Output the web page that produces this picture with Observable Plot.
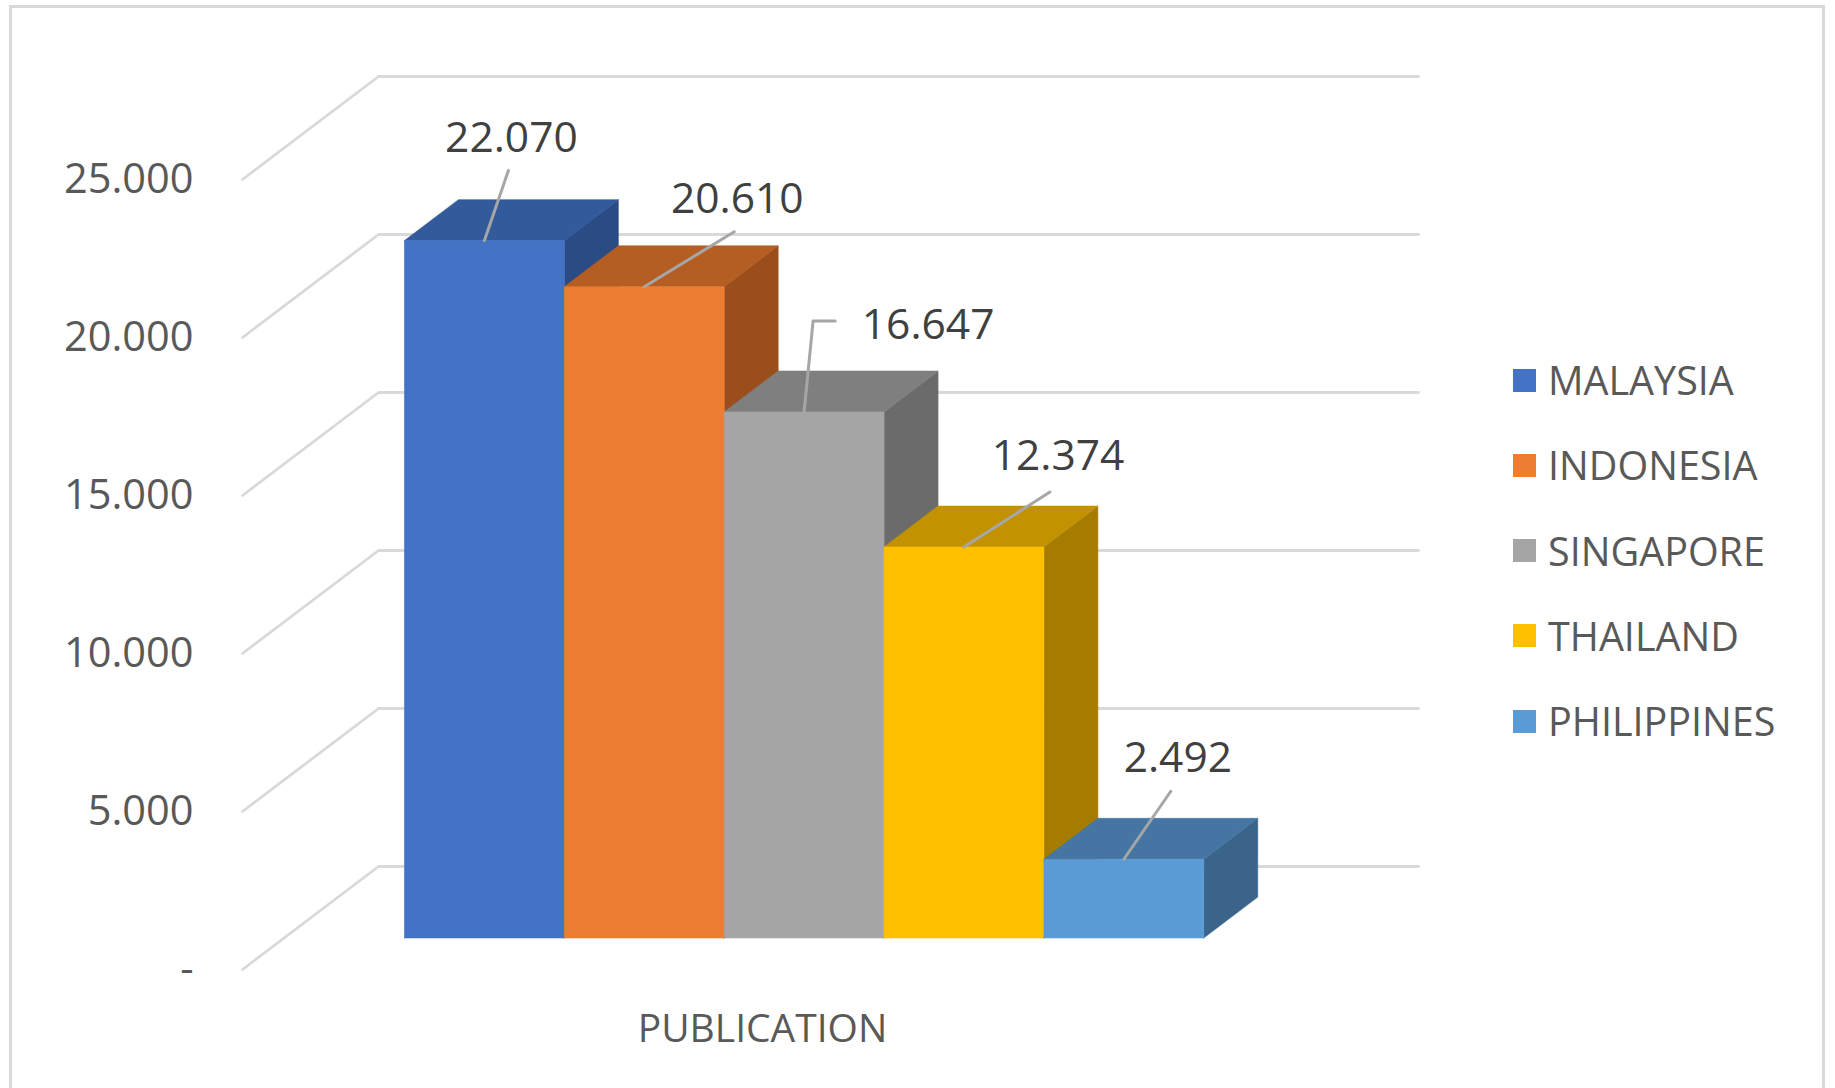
<!DOCTYPE html>
<html>
<head>
<meta charset="utf-8">
<script src="https://cdn.jsdelivr.net/npm/d3@7"></script>
<script src="https://cdn.jsdelivr.net/npm/@observablehq/plot@0.6"></script>
<style>
  html, body { margin: 0; padding: 0; background: #fff; }
  body { width: 1835px; height: 1088px; overflow: hidden; position: relative; font-family: "Open Sans", sans-serif; }
  #frame { position: absolute; left: 9px; top: 5px; width: 1816px; height: 1200px; border: 3px solid #d9d9d9; box-sizing: border-box; }
  #chart { position: absolute; left: 0; top: 0; }
  #chart g[aria-label="x-axis tick label"] text { font-size: 39px !important; }
  .legend-item { position: absolute; left: 1513px; height: 50px; display: flex; align-items: center; font-size: 39.5px; color: #595959; white-space: nowrap; }
  .legend-item .sw { width: 23px; height: 23px; margin-right: 12px; flex: none; }
</style>
</head>
<body>
<div id="frame"></div>
<div id="chart"></div>
<div id="legend"></div>
<script>
// ---------- data ----------
const countries = ["MALAYSIA", "INDONESIA", "SINGAPORE", "THAILAND", "PHILIPPINES"];
const publications = [22070, 20610, 16647, 12374, 2492];
const valueLabels = ["22.070", "20.610", "16.647", "12.374", "2.492"];
const category = "PUBLICATION";
const yTicks = [0, 5000, 10000, 15000, 20000, 25000];
const yTickLabels = ["-", "5.000", "10.000", "15.000", "20.000", "25.000"];

// ---------- styles ----------
const frontColors = ["#4472C4", "#ED7D31", "#A5A5A5", "#FFC000", "#5B9BD5"];
const topColors   = ["#335A9B", "#B45E23", "#7F7F7F", "#C39200", "#4576A3"];
const sideColors  = ["#2B4B84", "#9A4E1C", "#6B6B6B", "#A57B00", "#3A6489"];

// label layout (pixel offsets from the bar's top-front anchor)
const leaderOffsets = [[[24, -70]], [[90, -55]], [[9, -91], [31, -91]], [[86, -55]], [[47, -68]]];
const labelOffsets = [[27, -102], [93, -87], [124, -87], [94, -91], [54, -101]];

// ---------- geometry ----------
const W = 1835, H = 1088, mL = 242, mR = 553, mT = 179, mB = 119;
const xDomain = [-0.753, countries.length + 0.753];
const yMax = 25000;
const pxX = (W - mL - mR) / (xDomain[1] - xDomain[0]);
const pxY = (H - mT - mB) / yMax;
const DEPTH_X = 136 / pxX;   // floor depth in x units
const DEPTH_Y = 103 / pxY;   // floor depth in value units
const tf = 0.306, tb = 0.703; // bar front/back depth fractions

const P = (x, v, t) => ({x: x + t * DEPTH_X, y: v + t * DEPTH_Y});

// gridlines (front -> back wall -> right)
const grid = [];
yTicks.forEach(v => {
  [P(xDomain[0], v, 0), P(xDomain[0], v, 1), P(xDomain[1], v, 1)].forEach(p => grid.push({...p, key: v}));
});

// bar faces
const faces = [];
publications.forEach((v, i) => {
  const add = (pts, color, key) => {
    [...pts, pts[0]].forEach(p => faces.push({...p, key, color}));
  };
  add([P(i + 1, 0, tf), P(i + 1, 0, tb), P(i + 1, v, tb), P(i + 1, v, tf)], sideColors[i], i + "side");
  add([P(i, v, tf), P(i + 1, v, tf), P(i + 1, v, tb), P(i, v, tb)], topColors[i], i + "top");
  add([P(i, 0, tf), P(i + 1, 0, tf), P(i + 1, v, tf), P(i, v, tf)], frontColors[i], i + "front");
});

// leaders & labels
const leaders = [];
const labels = [];
publications.forEach((v, i) => {
  const a = P(i + 0.5, v, tf);
  leaders.push({x: a.x, y: a.y, key: i});
  leaderOffsets[i].forEach(([dx, dy]) => leaders.push({x: a.x + dx / pxX, y: a.y - dy / pxY, key: i}));
  const [lx, ly] = labelOffsets[i];
  labels.push({x: a.x + lx / pxX, y: a.y - ly / pxY, text: valueLabels[i]});
});

const plot = Plot.plot({
  width: W,
  height: H,
  marginLeft: mL,
  marginRight: mR,
  marginTop: mT,
  marginBottom: mB,
  style: {fontSize: "41.5px", fontFamily: "'Open Sans', sans-serif", color: "#595959", background: "transparent", overflow: "visible"},
  x: {domain: xDomain, ticks: [countries.length / 2], tickFormat: () => category, tickSize: 0, tickPadding: 45, label: null},
  y: {domain: [0, yMax], ticks: yTicks, tickFormat: d => yTickLabels[yTicks.indexOf(d)], tickSize: 0, tickPadding: 49, label: null},
  color: {type: "identity"},
  marks: [
    Plot.line(grid, {x: "x", y: "y", z: "key", stroke: "#d9d9d9", strokeWidth: 2.8, curve: "linear"}),
    Plot.line(faces, {x: "x", y: "y", z: "key", fill: "color", stroke: "color", strokeWidth: 0.6, curve: "linear"}),
    Plot.line(leaders, {x: "x", y: "y", z: "key", stroke: "#a6a6a6", strokeWidth: 3, curve: "linear"}),
    Plot.text(labels, {x: "x", y: "y", text: "text", fill: "#404040", fontSize: 42.5, textAnchor: "middle"})
  ]
});
document.getElementById("chart").appendChild(plot);

// legend
const legend = document.getElementById("legend");
countries.forEach((c, i) => {
  const item = document.createElement("div");
  item.className = "legend-item";
  item.style.top = (380 + i * 85.25 - 25) + "px";
  const sw = document.createElement("span");
  sw.className = "sw";
  sw.style.background = frontColors[i];
  const tx = document.createElement("span");
  tx.textContent = c;
  item.appendChild(sw);
  item.appendChild(tx);
  legend.appendChild(item);
});
</script>
</body>
</html>
